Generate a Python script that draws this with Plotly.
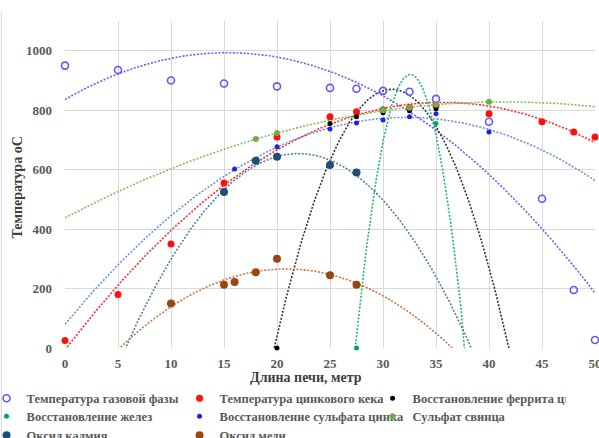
import numpy as np
import plotly.graph_objects as go

# ---- data ----
gas_x = [0, 5, 10, 15, 20, 25, 27.5, 30, 32.5, 35, 40, 45, 48, 50]
gas_y = [950, 935, 900, 890, 880, 875, 872, 865, 862, 838, 761, 502, 195, 27]

cake_x = [0, 5, 10, 15, 20, 25, 27.5, 30, 32.5, 35, 40, 45, 48, 50]
cake_y = [25, 180, 350, 555, 710, 778, 795, 801, 808, 815, 788, 761, 727, 710]

ferrite_x = [20, 25, 27.5, 30, 32.5, 35]
ferrite_y = [0, 755, 778, 791, 798, 805]

iron_x = [27.5, 30, 32.5, 35]
iron_y = [0, 805, 808, 755]

zns_x = [16, 20, 25, 27.5, 30, 32.5, 35, 40]
zns_y = [602, 677, 737, 757, 767, 778, 788, 727]

pbs_x = [18, 20, 30, 32.5, 35, 40]
pbs_y = [703, 723, 800, 808, 818, 828]

cd_x = [15, 18, 20, 25, 27.5]
cd_y = [525, 630, 643, 616, 590]

cu_x = [10, 15, 16, 18, 20, 25, 27.5]
cu_y = [150, 213, 222, 255, 300, 245, 213]

names = ["Температура газовой фазы", "Температура цинкового кека",
         "Восстановление феррита цинка", "Восстановление желез",
         "Восстановление сульфата цинка", "Сульфат свинца",
         "Оксид кадмия", "Оксид меди"]

x_ticks = [0, 5, 10, 15, 20, 25, 30, 35, 40, 45, 50]
y_ticks = [0, 200, 400, 600, 800, 1000]

series = [
    # x, y, marker color, line color, symbol, size
    (gas_x, gas_y, "#6655f5", "#6e5ff2", "circle-open", 7),
    (cake_x, cake_y, "#ff1010", "#ff2a2a", "circle", 7),
    (ferrite_x, ferrite_y, "#000000", "#333333", "circle", 5),
    (iron_x, iron_y, "#00a850", "#20b868", "circle", 5),
    (zns_x, zns_y, "#2020e8", "#6a92d4", "circle", 5),
    (pbs_x, pbs_y, "#70ad47", "#84bb5e", "circle", 6),
    (cd_x, cd_y, "#1f4e79", "#4f7fab", "circle", 8),
    (cu_x, cu_y, "#9a4610", "#c47a45", "circle", 8),
]
legend_ids = ["legend", "legend", "legend",
              "legend2", "legend2", "legend2",
              "legend3", "legend3"]

FONT = "Liberation Serif"
fig = go.Figure()

xs = np.linspace(0, 50, 401)
for (sx, sy, mc, lc, sym, sz) in series:
    coef = np.polyfit(sx, sy, 2)
    fig.add_trace(go.Scatter(
        x=xs, y=np.polyval(coef, xs), mode="lines",
        line=dict(color=lc, width=1.6, dash="2px,1.6px"),
        showlegend=False, hoverinfo="skip"))

for (sx, sy, mc, lc, sym, sz), nm, lg in zip(series, names, legend_ids):
    marker = dict(color=mc, size=sz, symbol=sym)
    if sym == "circle-open":
        marker["line"] = dict(width=1.6, color=mc)
    fig.add_trace(go.Scatter(
        x=sx, y=sy, mode="markers", name=nm, marker=marker,
        cliponaxis=False, legend=lg))

tickfont = dict(family=FONT, size=13, color="#595959", weight="bold")
legfont = dict(family=FONT, size=12.5, color="#595959", weight="bold")


def leg(ypos):
    return dict(orientation="h", x=-0.148, xanchor="left",
                y=ypos, yanchor="top",
                entrywidth=148, entrywidthmode="pixels",
                font=legfont, bgcolor="rgba(0,0,0,0)")


fig.update_layout(
    width=599, height=438,
    margin=dict(l=65, r=4, t=21, b=90, autoexpand=False),
    paper_bgcolor="white", plot_bgcolor="white",
    xaxis=dict(range=[0, 50], tickvals=x_ticks, showgrid=True,
               gridcolor="#d9d9d9", gridwidth=1, zeroline=False,
               showline=False, ticks="", tickfont=tickfont,
               ticklabelstandoff=6, ticklabeloverflow="allow"),
    yaxis=dict(range=[0, 1100], tickvals=y_ticks, showgrid=True,
               gridcolor="#d9d9d9", gridwidth=1, zeroline=False,
               showline=False, ticks="", tickfont=tickfont,
               ticklabelstandoff=12, ticklabeloverflow="allow"),
    legend=leg(-0.109),
    legend2=leg(-0.164),
    legend3=leg(-0.222),
    showlegend=True,
    annotations=[
        dict(text="Длина печи, метр", xref="paper", yref="paper",
             x=0.455, y=-0.091, xanchor="center", yanchor="middle",
             showarrow=False,
             font=dict(family=FONT, size=14, color="#404040", weight="bold")),
        dict(text="Температура оС", xref="paper", yref="paper",
             x=-0.089, y=0.49, xanchor="center", yanchor="middle",
             textangle=-90, showarrow=False,
             font=dict(family=FONT, size=14, color="#404040", weight="bold")),
    ],
    shapes=[dict(type="line", xref="paper", yref="paper",
                 x0=-0.12, x1=-0.12, y0=1.028, y1=-0.3,
                 line=dict(color="#d9d9d9", width=1))],
)

fig.write_html("out.html")
